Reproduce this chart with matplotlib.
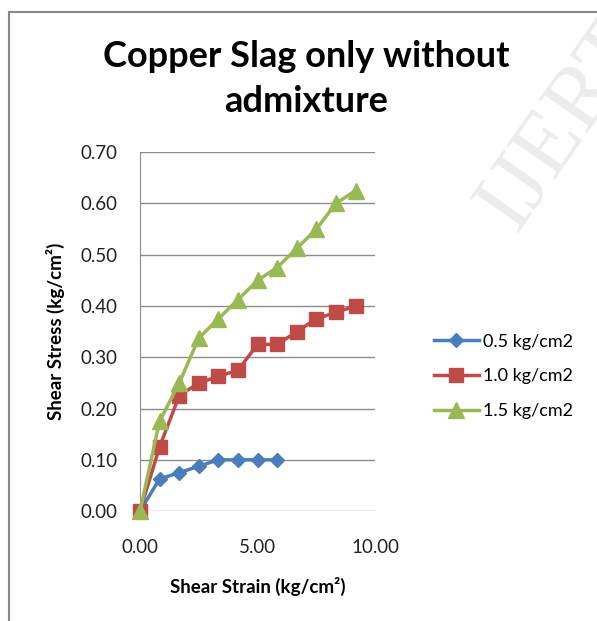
import matplotlib
matplotlib.use('Agg')
import matplotlib.pyplot as plt
from matplotlib.patches import Rectangle

plt.rcParams['font.family'] = ['Lato', 'DejaVu Sans']

# data
strain_05 = [0.0, 0.83, 1.67, 2.5, 3.33, 4.17, 5.0, 5.83]
stress_05 = [0.0, 0.0625, 0.075, 0.0875, 0.1, 0.1, 0.1, 0.1]

strain_10 = [0.0, 0.83, 1.67, 2.5, 3.33, 4.17, 5.0, 5.83, 6.67, 7.5, 8.33, 9.17]
stress_10 = [0.0, 0.125, 0.225, 0.25, 0.2625, 0.275, 0.325, 0.325, 0.35, 0.375, 0.3875, 0.4]

strain_15 = [0.0, 0.83, 1.67, 2.5, 3.33, 4.17, 5.0, 5.83, 6.67, 7.5, 8.33, 9.17]
stress_15 = [0.0, 0.175, 0.25, 0.3375, 0.375, 0.4125, 0.45, 0.475, 0.5125, 0.55, 0.6, 0.625]

labels = ['0.5 kg/cm2', '1.0 kg/cm2', '1.5 kg/cm2']
colors = ['#4A7EBB', '#BE4B48', '#98B954']

fig = plt.figure(figsize=(5.97, 6.21), dpi=100)
ax = fig.add_axes([0.2345, 0.177, 0.394, 0.578])

# outer chart border
fig.patches.append(Rectangle((9 / 597, -0.05), 1.2, (621 - 12) / 621 + 0.05,
                             transform=fig.transFigure, fill=False,
                             edgecolor='#888888', linewidth=1.5))

# watermark
fig.text(0.945, 0.80, 'IJERT', rotation=55, fontsize=66, family='Liberation Serif',
         color='#ececec', ha='center', va='center', zorder=0)

ax.plot(strain_05, stress_05, color=colors[0], marker='D', markersize=7,
        linewidth=2.5, label=labels[0], zorder=3, clip_on=False)
ax.plot(strain_10, stress_10, color=colors[1], marker='s', markersize=10,
        linewidth=2.5, label=labels[1], zorder=3, clip_on=False)
ax.plot(strain_15, stress_15, color=colors[2], marker='^', markersize=11,
        linewidth=2.5, label=labels[2], zorder=4, clip_on=False)

ax.set_xlim(0, 10)
ax.set_ylim(0, 0.70)
ax.set_xticks([0, 5, 10])
ax.set_xticklabels(['0.00', '5.00', '10.00'], fontsize=13.5)
ax.set_yticks([0.0, 0.1, 0.2, 0.3, 0.4, 0.5, 0.6, 0.7])
ax.set_yticklabels(['%.2f' % v for v in ax.get_yticks()], fontsize=13.5)
ax.tick_params(length=0, colors='#222222')
ax.tick_params(axis='x', pad=20)
ax.tick_params(axis='y', pad=16)
ax.grid(axis='y', color='#8c8c8c', linewidth=1)
ax.set_axisbelow(True)
for side in ['top', 'right', 'bottom']:
    ax.spines[side].set_visible(False)
ax.spines['left'].set_color('#8c8c8c')

ax.set_xlabel('Shear Strain (kg/cm²)', fontsize=13.5, fontweight='bold', labelpad=15)
ax.set_ylabel('Shear Stress (kg/cm²)', fontsize=13.5, fontweight='bold', labelpad=11)

fig.text(0.513, 0.909, 'Copper Slag only without', fontsize=26, fontweight='bold',
         ha='center', va='center')
fig.text(0.513, 0.837, 'admixture', fontsize=26, fontweight='bold',
         ha='center', va='center')

ax.legend(loc='center left', bbox_to_anchor=(1.18, 0.375), frameon=False,
          fontsize=13, handlelength=2.5, labelspacing=1.05, handletextpad=0.25)

fig.savefig('out.png', dpi=100)
